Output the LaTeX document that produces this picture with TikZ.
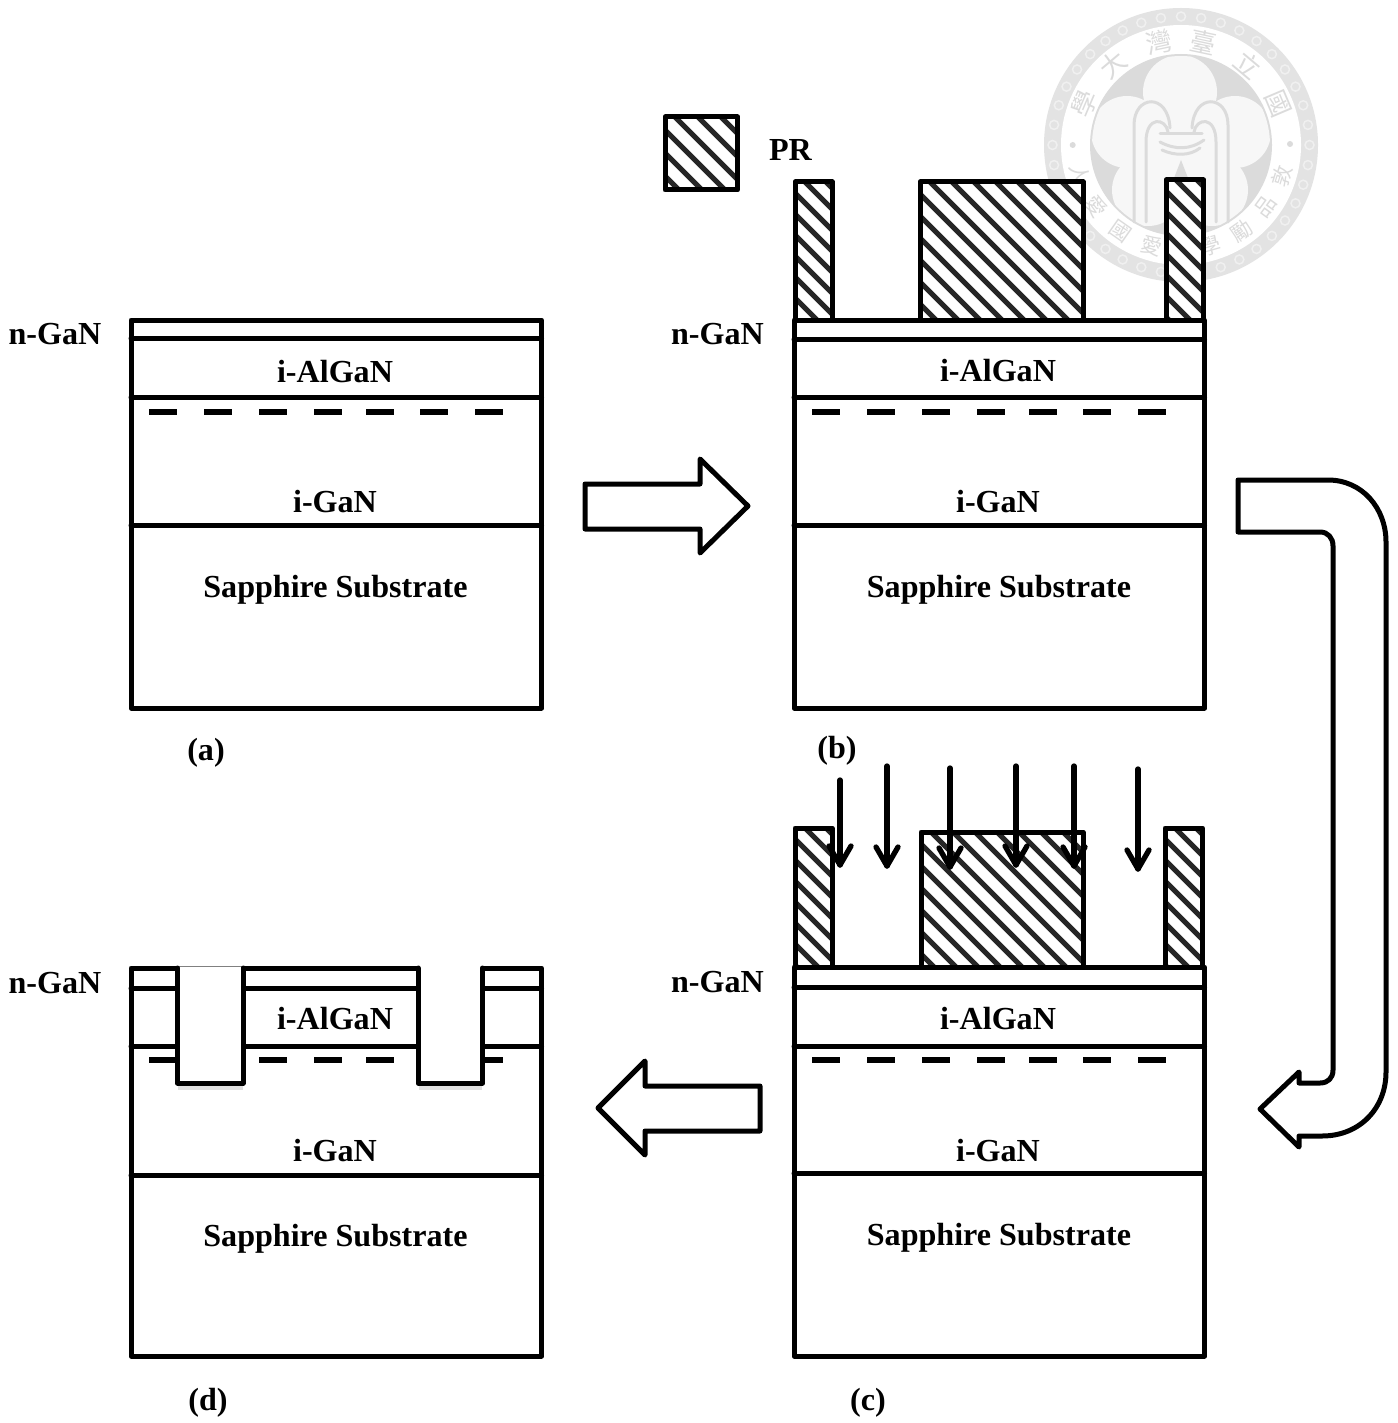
\documentclass[tikz,border=0pt]{standalone}
\usepackage{fontspec}
\setmainfont{Liberation Serif}
\newfontfamily\sealfont{Noto Sans CJK TC}
\definecolor{sealgray}{gray}{0.86}
\definecolor{sealring}{gray}{0.89}
\definecolor{sealpale}{gray}{0.97}
\tikzset{
  lyr/.style={draw=black,line width=5pt,line join=round,line cap=round},
  lbl/.style={font=\fontsize{32.1}{36}\selectfont\bfseries,inner sep=0pt},
  sealch/.style={font=\sealfont\fontsize{26}{30}\selectfont,text=sealgray,inner sep=0pt},
  sealchb/.style={font=\sealfont\fontsize{21}{24}\selectfont,text=sealgray,inner sep=0pt},
  sealline/.style={draw=sealgray,line width=3pt,line cap=round},
  gas/.style={line width=5.3pt,line cap=round,line join=round},
  dashln/.style={line width=5.3pt},
  shade/.style={line width=5pt,draw=black,opacity=0.12},
}
% \hatchbox{x1}{y1}{x2}{y2}{period}
\newcommand{\hatchbox}[5]{%
  \begin{scope}
    \fill[white] (#1,#2) rectangle (#3,#4);
    \clip (#1,#2) rectangle (#3,#4);
    \pgfmathsetmacro{\hh}{#4-#2}
    \pgfmathsetmacro{\st}{#1+10-#5*(ceil(\hh/#5)+1)}
    \pgfmathsetmacro{\nx}{\st+#5}
    \foreach \d in {\st,\nx,...,#3}{
      \draw[line width=5pt,draw=black!85] (\d,#2) -- ++(\hh,\hh);
    }
  \end{scope}
  \draw[lyr] (#1,#2) rectangle (#3,#4);
}
% \stack{x-left}{y-top}{line1}{line2}{line3}{bottom}{dashy}{prefix}
\newcommand{\stack}[8]{%
  \pgfmathsetmacro{\xr}{#1+410.5}
  \draw[lyr,fill=white] (#1,#2) rectangle (\xr,#6);
  \draw[lyr] (#1,#3) -- (\xr,#3);
  \draw[lyr] (#1,#4) -- (\xr,#4);
  \draw[lyr] (#1,#5) -- (\xr,#5);
  \foreach \a in {18,73,128,183,235,289,344}{
    \pgfmathsetmacro{\xa}{#1+\a}
    \pgfmathsetmacro{\xb}{#1+\a+28}
    \draw[dashln] (\xa,#7) -- (\xb,#7);
  }
}
\begin{document}
\begin{tikzpicture}[x=1pt,y=-1pt]
\useasboundingbox (0,0) rectangle (1397,1423);
\fill[white] (0,0) rectangle (1397,1423);

% ---------- seal ----------
\coordinate (sealc) at (1181,145);
\fill[sealring] (sealc) circle[radius=137];
\fill[white] (sealc) circle[radius=120];
\foreach \t in {0,9,...,351}{
  \pgfmathsetmacro{\qx}{1181+128.5*cos(\t)}
  \pgfmathsetmacro{\qy}{145-128.5*sin(\t)}
  \draw[gray!12,line width=1.5pt] (\qx,\qy) circle[radius=4.5];
}
\fill[sealgray] (sealc) circle[radius=91];
\begin{scope}
  \clip (sealc) circle[radius=89];
  \fill[sealpale] (1180,92) circle[radius=37];
  \fill[sealpale] (1127,132) circle[radius=36];
  \fill[sealpale] (1235,132) circle[radius=36];
  \fill[sealpale] (1148,190) circle[radius=36];
  \fill[sealpale] (1212,190) circle[radius=36];
  \fill[sealpale] (sealc) circle[radius=42];
\end{scope}
\draw[sealline] (1134,222) -- (1134,125) .. controls (1134,95) and (1168,92) .. (1170,128);
\draw[sealline] (1146,222) -- (1146,142) .. controls (1146,115) and (1166,118) .. (1168,132);
\draw[sealline] (1228,222) -- (1228,125) .. controls (1228,95) and (1194,92) .. (1192,128);
\draw[sealline] (1216,222) -- (1216,142) .. controls (1216,115) and (1196,118) .. (1194,132);
\draw[sealline] (1160,134) -- (1202,134);
\draw[sealline] (1160,142) .. controls (1175,150) and (1190,150) .. (1204,140);
\draw[sealline] (1162,150) .. controls (1175,156) and (1190,156) .. (1200,148);
\fill[sealgray] (1174,178) -- (1181,160) -- (1188,178) -- (1188,200) -- (1174,200) -- cycle;
\fill[sealgray] (1072.7,145) circle[radius=3];
\fill[sealgray] (1290,144) circle[radius=3];
\foreach \ch/\ang [count=\i] in {學/157,大/130,灣/102,臺/78,立/50,國/23}{
  \pgfmathsetmacro{\rot}{\ang-90}
  \pgfmathsetmacro{\qx}{1181+105*cos(\ang)}
  \pgfmathsetmacro{\qy}{145-105*sin(\ang)}
  \node[sealch,rotate=\rot] (seala\i) at (\qx,\qy) {\ch};
}
\foreach \ch/\ang [count=\i] in {敦/-17,品/-36,勵/-55,學/-74,愛/-106,國/-125,愛/-144,人/-164}{
  \pgfmathsetmacro{\rot}{\ang+90}
  \pgfmathsetmacro{\qx}{1181+105*cos(\ang)}
  \pgfmathsetmacro{\qy}{145-105*sin(\ang)}
  \node[sealchb,rotate=\rot] (sealb\i) at (\qx,\qy) {\ch};
}

% ---------- stacks ----------
\stack{131}{320}{338}{397}{525}{708}{412}{a}
\stack{794}{320}{339}{397}{525}{708}{412}{b}
\stack{794}{967}{987}{1046}{1173}{1356}{1060}{c}
\stack{131}{968}{988}{1046}{1175}{1356}{1060}{d}

% trenches of (d)
\draw[shade] (178,1087) -- (243,1087);
\draw[shade] (419,1087) -- (482,1087);
\fill[white] (177.5,964.5) rectangle (243,1083);
\fill[white] (418,964.5) rectangle (482.5,1083);
\draw[gray,line width=.8pt] (177.5,966.5) -- (243,966.5);
\draw[lyr] (177.5,968) -- (177.5,1083) -- (243,1083) -- (243,968);
\draw[lyr] (418,968) -- (418,1083) -- (482.5,1083) -- (482.5,968);

% ---------- photoresist ----------
\hatchbox{665}{117}{737.5}{190}{23}
\hatchbox{795}{182}{832}{320}{21}
\hatchbox{920}{182}{1083}{320}{22}
\hatchbox{1166}{180}{1203.5}{320}{21}
\hatchbox{795}{828}{832}{967}{21}
\hatchbox{921}{832}{1083}{967}{22}
\hatchbox{1165}{828}{1202.5}{967}{21}

% ---------- etching arrows ----------
\foreach \n/\x/\ya/\yb in {1/840/780/865,2/887/766/866,3/950/768/867,4/1016/766/865,5/1074/766/866,6/1138/769/869}{
  \coordinate (gasa\n) at (\x,\ya);
  \coordinate (gasb\n) at (\x,\yb);
  \coordinate (gasl\n) at (\x-11,\yb-19);
  \coordinate (gasr\n) at (\x+11,\yb-19);
  \draw[gas] (gasa\n) -- (gasb\n);
  \draw[gas] (gasl\n) -- (gasb\n) -- (gasr\n);
}

% ---------- process arrows ----------
\draw[lyr,fill=white] (585,484) -- (700,484) -- (700,459) -- (748,506) -- (700,553) -- (700,529) -- (585,529) -- cycle;
\draw[lyr,fill=white] (760,1086) -- (645,1086) -- (645,1061) -- (598,1108) -- (645,1155) -- (645,1131) -- (760,1131) -- cycle;
\draw[lyr,fill=white] (1238,480) -- (1328,480)
  .. controls (1362,480) and (1386,508) .. (1386,542) -- (1386,1072)
  .. controls (1386,1108) and (1360,1136) .. (1322,1136) -- (1299,1136)
  -- (1299,1147) -- (1260,1109) -- (1299,1072) -- (1299,1083) -- (1320,1083)
  .. controls (1328,1083) and (1333,1078) .. (1333,1070) -- (1333,546)
  .. controls (1333,538) and (1328,532) .. (1320,532) -- (1238,532) -- cycle;

% ---------- labels ----------
\node[lbl] (pr) at (790.5,150) {PR};
\node[lbl] (na) at (55,334.5) {n-GaN};
\node[lbl] (nb) at (717.5,334.5) {n-GaN};
\node[lbl] (nc) at (717.5,982.5) {n-GaN};
\node[lbl] (nd) at (55,983.5) {n-GaN};
\node[lbl] (aa) at (335,372) {i-AlGaN};
\node[lbl] (ab) at (998,371) {i-AlGaN};
\node[lbl] (ac) at (998,1019) {i-AlGaN};
\node[lbl] (ad) at (335,1019) {i-AlGaN};
\node[lbl] (ga) at (335,502) {i-GaN};
\node[lbl] (gb) at (998,502) {i-GaN};
\node[lbl] (gc) at (998,1151) {i-GaN};
\node[lbl] (gd) at (335,1151) {i-GaN};
\node[lbl] (sa) at (335.5,590) {Sapphire Substrate};
\node[lbl] (sb) at (999,590) {Sapphire Substrate};
\node[lbl] (sc) at (999,1238) {Sapphire Substrate};
\node[lbl] (sd) at (335.5,1239) {Sapphire Substrate};
\node[lbl] (capa) at (206,753) {(a)};
\node[lbl] (capb) at (837,751) {(b)};
\node[lbl] (capc) at (868,1403) {(c)};
\node[lbl] (capd) at (208,1403) {(d)};
\end{tikzpicture}
\end{document}
